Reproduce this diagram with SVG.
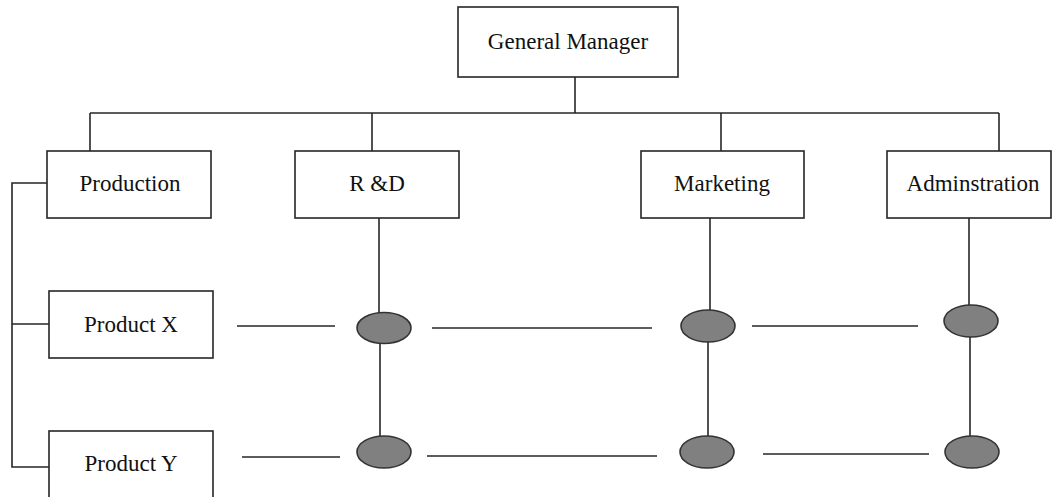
<svg xmlns="http://www.w3.org/2000/svg" width="1055" height="497" viewBox="0 0 1055 497">
  <style>
    .box { fill: #ffffff; stroke: #262626; stroke-width: 1.6; }
    .lbl { font-family: "Liberation Serif", "Times New Roman", serif; font-size: 23px; fill: #111111; text-anchor: middle; }
    .wire { stroke: #262626; stroke-width: 1.6; fill: none; }
    .dot { fill: #808080; stroke: #333333; stroke-width: 1.6; }
  </style>

  <!-- connectors -->
  <g id="connectors">
    <!-- top tree -->
    <line class="wire" x1="575" y1="77" x2="575" y2="113"/>
    <line class="wire" x1="90" y1="113" x2="999" y2="113"/>
    <line class="wire" x1="90" y1="113" x2="90" y2="151"/>
    <line class="wire" x1="372" y1="113" x2="372" y2="151"/>
    <line class="wire" x1="721" y1="113" x2="721" y2="151"/>
    <line class="wire" x1="999" y1="113" x2="999" y2="151"/>
    <!-- production bracket -->
    <polyline class="wire" points="47,183 12,183 12,467 49,467"/>
    <line class="wire" x1="12" y1="324" x2="49" y2="324"/>
    <!-- function columns -->
    <line class="wire" x1="379" y1="218" x2="379" y2="313"/>
    <line class="wire" x1="380" y1="343" x2="380" y2="437"/>
    <line class="wire" x1="710" y1="218" x2="710" y2="310"/>
    <line class="wire" x1="708" y1="342" x2="708" y2="436"/>
    <line class="wire" x1="969" y1="218" x2="969" y2="305"/>
    <line class="wire" x1="970" y1="337" x2="970" y2="436"/>
    <!-- product rows -->
    <line class="wire" x1="237" y1="326" x2="335" y2="326"/>
    <line class="wire" x1="432" y1="328" x2="652" y2="328"/>
    <line class="wire" x1="752" y1="326" x2="918" y2="326"/>
    <line class="wire" x1="242" y1="457" x2="340" y2="457"/>
    <line class="wire" x1="427" y1="456" x2="657" y2="456"/>
    <line class="wire" x1="763" y1="454" x2="929" y2="454"/>
  </g>

  <!-- matrix junctions -->
  <g id="junctions">
    <ellipse class="dot" cx="384" cy="328" rx="27" ry="15.5"/>
    <ellipse class="dot" cx="708" cy="326" rx="27" ry="16"/>
    <ellipse class="dot" cx="971" cy="321" rx="27" ry="16"/>
    <ellipse class="dot" cx="384" cy="452" rx="27" ry="16"/>
    <ellipse class="dot" cx="707" cy="452" rx="27" ry="16"/>
    <ellipse class="dot" cx="972" cy="452" rx="27" ry="16"/>
  </g>

  <g id="general-manager">
    <rect class="box" x="458" y="7" width="220" height="70"/>
    <text class="lbl" x="568" y="49">General Manager</text>
  </g>
  <g id="production">
    <rect class="box" x="47" y="151" width="164" height="67"/>
    <text class="lbl" x="130" y="191">Production</text>
  </g>
  <g id="rnd">
    <rect class="box" x="295" y="151" width="164" height="67"/>
    <text class="lbl" x="377" y="191">R &amp;D</text>
  </g>
  <g id="marketing">
    <rect class="box" x="641" y="151" width="163" height="67"/>
    <text class="lbl" x="722" y="191">Marketing</text>
  </g>
  <g id="administration">
    <rect class="box" x="887" y="151" width="164" height="67"/>
    <text class="lbl" x="973" y="191">Adminstration</text>
  </g>
  <g id="product-x">
    <rect class="box" x="49" y="291" width="164" height="67"/>
    <text class="lbl" x="131" y="332">Product X</text>
  </g>
  <g id="product-y">
    <rect class="box" x="49" y="431" width="164" height="80"/>
    <text class="lbl" x="131" y="471">Product Y</text>
  </g>
</svg>
